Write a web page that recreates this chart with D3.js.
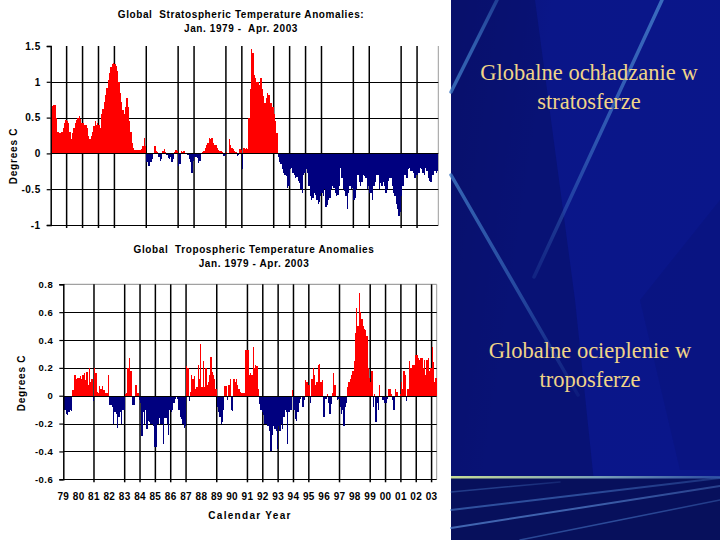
<!DOCTYPE html>
<html>
<head>
<meta charset="utf-8">
<script src="https://cdn.jsdelivr.net/npm/d3@7"></script>
<style>
  html, body { margin: 0; padding: 0; background: #ffffff; }
  svg { display: block; }
  .lbl { font-family: "Liberation Sans", Arial, sans-serif; font-weight: bold; font-size: 10px; fill: #000; white-space: pre; }
</style>
</head>
<body>
<svg id="chart" width="720" height="540"></svg>
<script>
// ---------------- DATA ----------------
// Global stratospheric temperature anomalies, monthly Jan 1979 - Apr 2003 (deg C)
const stratAnomalies = [
  0.62,0.66,0.67,0.68,0.50,0.30,0.28,0.28,0.30,0.36,0.42,0.46,   // 1979
  0.45,0.42,0.30,0.20,0.28,0.35,0.42,0.46,0.50,0.52,0.48,0.42,   // 1980
  0.42,0.40,0.40,0.35,0.25,0.20,0.25,0.30,0.38,0.45,0.40,0.42,   // 1981
  0.40,0.35,0.55,0.62,0.72,0.82,0.92,1.02,1.12,1.20,1.25,1.26,   // 1982
  1.25,1.22,1.15,1.00,0.85,0.72,0.60,0.55,0.65,0.78,0.65,0.45,   // 1983
  0.30,0.15,0.08,0.05,0.05,0.05,0.05,0.05,0.06,0.10,0.22,0.10,   // 1984
  -0.12,-0.17,-0.18,-0.12,-0.08,0.00,0.10,0.04,0.02,-0.05,-0.10,-0.08, // 1985
  0.03,0.06,0.02,-0.02,-0.06,-0.08,-0.05,-0.12,-0.08,0.02,0.05,0.04,   // 1986
  -0.18,-0.15,0.03,0.02,0.03,0.01,0.00,-0.02,-0.08,-0.12,-0.27,-0.10,  // 1987
  -0.05,-0.05,-0.06,-0.13,-0.10,0.00,0.02,0.04,0.08,0.12,0.15,0.21,    // 1988
  0.20,0.21,0.15,0.12,0.12,0.08,0.05,0.03,0.03,0.02,-0.03,-0.02,       // 1989
  0.02,0.00,0.20,0.12,0.08,0.06,0.03,0.02,-0.03,-0.02,0.06,0.05,       // 1990
  -0.22,0.07,0.06,0.07,0.06,0.50,0.90,1.46,1.40,1.10,1.05,1.00,        // 1991
  1.00,0.95,1.05,0.90,0.80,0.70,0.78,0.85,0.82,0.70,0.70,0.65,         // 1992
  0.55,0.45,0.28,-0.05,-0.12,-0.15,-0.22,-0.28,-0.30,-0.32,-0.48,-0.45, // 1993
  -0.22,-0.20,-0.28,-0.30,-0.35,-0.33,-0.38,-0.42,-0.50,-0.55,-0.30,-0.28, // 1994
  -0.22,-0.28,-0.45,-0.60,-0.65,-0.62,-0.55,-0.58,-0.65,-0.70,-0.68,-0.60, // 1995
  -0.55,-0.60,-0.50,-0.75,-0.72,-0.65,-0.62,-0.50,-0.45,-0.48,-0.55,-0.60, // 1996
  -0.58,-0.45,-0.20,-0.35,-0.50,-0.52,-0.60,-0.78,-0.55,-0.45,-0.50,-0.48, // 1997
  -0.65,-0.62,-0.50,-0.30,-0.40,-0.45,-0.40,-0.30,-0.32,-0.35,-0.50,-0.45, // 1998
  -0.55,-0.55,-0.65,-0.45,-0.40,-0.30,-0.30,-0.50,-0.42,-0.45,-0.40,-0.45, // 1999
  -0.55,-0.50,-0.38,-0.35,-0.35,-0.45,-0.55,-0.60,-0.70,-0.78,-0.87,-0.82, // 2000
  -0.60,-0.45,-0.30,-0.30,-0.35,-0.22,-0.20,-0.25,-0.25,-0.28,-0.35,-0.30, // 2001
  -0.30,-0.28,-0.20,-0.22,-0.28,-0.30,-0.20,-0.25,-0.35,-0.38,-0.40,-0.30, // 2002
  -0.30,-0.25,-0.28,-0.25                                                  // 2003
];

// Global tropospheric temperature anomalies, monthly Jan 1979 - Apr 2003 (deg C)
const tropoAnomalies = [
  -0.10,-0.10,-0.13,-0.14,-0.12,-0.10,-0.11,0.04,0.15,0.15,0.12,0.13,  // 1979
  0.13,0.14,0.12,0.15,0.16,0.11,0.17,0.08,0.20,0.10,0.12,-0.04,        // 1980
  0.20,0.16,0.03,0.02,0.07,0.05,0.07,0.04,0.04,0.02,0.02,0.15,         // 1981
  -0.07,-0.07,-0.08,-0.20,-0.12,-0.13,-0.23,-0.15,-0.12,-0.20,-0.10,-0.10, // 1982
  0.01,0.02,0.20,0.27,0.18,0.18,-0.07,-0.07,0.08,0.08,0.02,-0.03,      // 1983
  -0.05,-0.29,-0.12,-0.20,-0.10,-0.24,-0.18,-0.19,-0.20,-0.20,-0.22,-0.37, // 1984
  -0.37,-0.20,-0.20,-0.16,-0.20,-0.20,-0.35,-0.16,-0.16,-0.20,-0.28,-0.10, // 1985
  -0.12,-0.10,-0.05,-0.02,0.00,-0.02,-0.10,-0.15,-0.17,-0.20,-0.23,-0.22,  // 1986
  0.21,0.20,-0.04,0.03,0.15,0.12,0.14,0.05,0.06,0.22,0.12,0.37,        // 1987
  0.06,0.25,0.06,0.20,0.08,0.10,0.15,0.28,0.17,0.15,0.12,0.05,         // 1988
  -0.08,-0.12,-0.15,-0.20,-0.19,-0.10,0.07,0.07,-0.03,0.08,0.12,-0.10, // 1989
  -0.11,0.12,0.10,0.12,0.08,0.05,0.03,0.02,0.02,0.02,0.33,0.33,        // 1990
  0.33,0.15,0.16,0.15,0.35,0.20,0.22,0.21,0.05,-0.06,-0.10,-0.12,      // 1991
  -0.14,-0.20,-0.20,-0.22,-0.22,-0.25,-0.40,-0.28,-0.22,-0.24,-0.25,-0.38, // 1992
  -0.22,-0.25,-0.20,-0.24,-0.15,-0.10,-0.12,-0.35,-0.12,-0.10,-0.10,0.04,  // 1993
  -0.10,-0.17,-0.18,-0.12,-0.05,-0.02,-0.01,-0.08,-0.03,0.11,0.10,0.08,    // 1994
  0.08,-0.05,0.12,0.20,0.15,0.08,0.10,0.22,0.23,0.10,0.11,-0.15,       // 1995
  -0.15,-0.02,0.01,-0.05,-0.13,-0.06,0.02,0.16,0.08,0.00,-0.03,-0.02,  // 1996
  -0.08,-0.13,-0.10,-0.22,-0.08,-0.05,0.06,0.10,0.12,0.15,0.18,0.25,   // 1997
  0.45,0.63,0.50,0.74,0.60,0.55,0.50,0.48,0.47,0.43,0.20,0.13,         // 1998
  0.10,0.18,-0.08,0.01,-0.19,-0.05,-0.10,0.08,0.00,-0.03,-0.03,-0.05,  // 1999
  -0.05,-0.02,0.05,0.05,0.01,-0.03,-0.10,0.05,0.03,0.03,0.00,0.01,     // 2000
  0.10,0.05,0.18,0.15,-0.04,0.05,0.25,0.20,0.20,0.22,0.22,0.29,        // 2001
  0.29,0.27,0.26,0.27,0.27,0.20,0.26,0.15,0.26,0.27,0.18,0.20,         // 2002
  0.35,0.24,0.10,0.13                                                  // 2003
];

const startYear = 1979;
const topTicks = [1.5, 1, 0.5, 0, -0.5, -1];
const bottomTicks = [0.8, 0.6, 0.4, 0.2, 0, -0.2, -0.4, -0.6];
const topGridYears = [1980,1981,1982,1983,1985,1987,1988,1990,1991,1993,1994,1995,1996,1998,1999,2001,2002];
const bottomGridYears = [1981,1983,1984,1985,1986,1987,1989,1991,1992,1993,1994,1995,1997,1999,2000,2001,2002,2003];
const yearLabels = ["79","80","81","82","83","84","85","86","87","88","89","90","91","92","93","94","95","96","97","98","99","00","01","02","03"];
const topTitle = ["Global  Stratospheric Temperature Anomalies:", "Jan. 1979 -  Apr. 2003"];
const bottomTitle = ["Global  Tropospheric Temperature Anomalies", "Jan. 1979 - Apr. 2003"];
const yAxisTitle = "Degrees C";
const xAxisTitle = "Calendar Year";
const panelText1 = ["Globalne ochładzanie w", "stratosferze"];
const panelText2 = ["Globalne ocieplenie w", "troposferze"];

// ---------------- DRAW ----------------
const svg = d3.select("#chart");
const defs = svg.append("defs");
svg.append("rect").attr("x",0).attr("y",0).attr("width",720).attr("height",540).attr("fill","#ffffff");

const RED = "#ff0000", NAVY = "#00007f";
const fmt = d => String(d).replace("\u2212","-");

function drawChart(cfg) {
  const n = cfg.values.length;
  const x = d3.scaleLinear().domain([0, n]).range([cfg.x0, cfg.x1]);
  const y = d3.scaleLinear().domain(cfg.yDomain).range([cfg.yBottom, cfg.yTop]);
  const g = svg.append("g");

  if (cfg.frame) {
    g.append("line").attr("x1", cfg.x0).attr("x2", cfg.x1).attr("y1", y(cfg.yDomain[1])).attr("y2", y(cfg.yDomain[1]))
      .attr("stroke", "#8a8a8a").attr("stroke-width", 1);
  }
  g.append("line").attr("x1", cfg.x1).attr("x2", cfg.x1).attr("y1", y(cfg.yDomain[1])).attr("y2", y(cfg.yDomain[0]))
    .attr("stroke", "#9a9a9a").attr("stroke-width", 1);

  // horizontal grid
  g.selectAll(".hg").data(cfg.ticks.filter(t => t !== 0 && t !== cfg.yDomain[1]))
    .enter().append("line")
    .attr("x1", cfg.x0).attr("x2", cfg.x1)
    .attr("y1", d => Math.round(y(d)) + 0.5).attr("y2", d => Math.round(y(d)) + 0.5)
    .attr("stroke", "#000").attr("stroke-width", 1.2);

  // vertical year grid
  g.selectAll(".vg").data(cfg.gridYears).enter().append("line")
    .attr("x1", d => x((d - startYear) * 12)).attr("x2", d => x((d - startYear) * 12))
    .attr("y1", y(cfg.yDomain[1])).attr("y2", y(cfg.yDomain[0]) + 3)
    .attr("stroke", "#000").attr("stroke-width", 1.5);

  // bars
  g.selectAll(".bar").data(cfg.values).enter().append("rect")
    .attr("x", (d, i) => x(i))
    .attr("width", (d, i) => x(i + 1) - x(i))
    .attr("y", d => d >= 0 ? y(d) : y(0))
    .attr("height", d => Math.abs(y(d) - y(0)))
    .attr("fill", d => d >= 0 ? RED : NAVY)
    .attr("shape-rendering", "crispEdges");

  // zero line
  g.append("line").attr("x1", cfg.x0).attr("x2", cfg.x1)
    .attr("y1", Math.round(y(0)) + 0.5).attr("y2", Math.round(y(0)) + 0.5)
    .attr("stroke", "#000").attr("stroke-width", 1.2);

  // y axis
  const ax = d3.axisLeft(y).tickValues(cfg.ticks).tickSize(4).tickPadding(6).tickFormat(fmt);
  const axg = g.append("g").attr("transform", `translate(${cfg.x0},0)`).call(ax);
  axg.select(".domain").attr("stroke", "#000").attr("stroke-width", 1.5);
  axg.selectAll(".tick line").attr("stroke", "#000").attr("stroke-width", 1.2);
  axg.selectAll(".tick text").attr("class", "lbl").style("font-size", cfg.tickFont + "px").attr("fill", "#000").style("letter-spacing", "0.5px");

  // titles
  cfg.title.forEach((t, i) => {
    svg.append("text").attr("class", "lbl").attr("x", cfg.titleX).attr("y", cfg.titleY + i * 14)
      .attr("text-anchor", "middle").attr("xml:space", "preserve").style("letter-spacing", "0.6px").text(t);
  });
  svg.append("text").attr("class", "lbl")
    .attr("transform", `translate(${cfg.yLabelX},${cfg.yLabelY}) rotate(-90)`)
    .attr("text-anchor", "middle").attr("dominant-baseline", "middle")
    .style("letter-spacing", "0.8px").text(yAxisTitle);
  return x;
}

drawChart({
  values: stratAnomalies, x0: 50.7, x1: 438.3, yTop: 46, yBottom: 225, yDomain: [-1, 1.5],
  ticks: topTicks, gridYears: topGridYears, frame: false, tickFont: 10,
  title: topTitle, titleX: 241, titleY: 18, yLabelX: 14, yLabelY: 156
});

const xb = drawChart({
  values: tropoAnomalies, x0: 63.3, x1: 436.7, yTop: 284.3, yBottom: 479.3, yDomain: [-0.6, 0.8],
  ticks: bottomTicks, gridYears: bottomGridYears, frame: true, tickFont: 9.5,
  title: bottomTitle, titleX: 254, titleY: 253, yLabelX: 22.5, yLabelY: 383
});

// x labels
svg.selectAll(".xl").data(yearLabels).enter().append("text")
  .attr("class", "lbl").attr("x", (d, i) => xb(i * 12)).attr("y", 500)
  .attr("text-anchor", "middle").style("letter-spacing", "0.3px").text(d => d);
svg.append("text").attr("class", "lbl").attr("x", 250).attr("y", 519)
  .attr("text-anchor", "middle").style("letter-spacing", "1.3px").text(xAxisTitle);

// ---------------- RIGHT PANEL ----------------
const bgGrad = defs.append("linearGradient").attr("id", "bgG").attr("x1", "0").attr("y1", "0").attr("x2", "1").attr("y2", "0.3");
bgGrad.append("stop").attr("offset", "0").attr("stop-color", "#0a1274");
bgGrad.append("stop").attr("offset", "0.35").attr("stop-color", "#0a1688");
bgGrad.append("stop").attr("offset", "1").attr("stop-color", "#0a168a");

const P = svg.append("g");
P.append("rect").attr("x", 451).attr("y", 0).attr("width", 269).attr("height", 540).attr("fill", "url(#bgG)");
P.append("path").attr("d", "M451,0 L535,0 L575,300 L600,540 L451,540 Z").attr("fill", "#060e62").attr("opacity", 0.5);
P.append("path").attr("d", "M640,300 L720,200 L720,470 L680,470 Z").attr("fill", "#06106c").attr("opacity", 0.25);

function streak(id, x1, y1, x2, y2, w, c1, o1, o2) {
  const gr = defs.append("linearGradient").attr("id", id).attr("gradientUnits", "userSpaceOnUse")
    .attr("x1", x1).attr("y1", y1).attr("x2", x2).attr("y2", y2);
  gr.append("stop").attr("offset", "0").attr("stop-color", c1).attr("stop-opacity", o1);
  gr.append("stop").attr("offset", "0.5").attr("stop-color", c1).attr("stop-opacity", (o1 + o2) / 2 + 0.1);
  gr.append("stop").attr("offset", "1").attr("stop-color", c1).attr("stop-opacity", o2);
  P.append("line").attr("x1", x1).attr("y1", y1).attr("x2", x2).attr("y2", y2)
    .attr("stroke", `url(#${id})`).attr("stroke-width", w).attr("stroke-linecap", "round");
}
streak("s1", 497, 0, 451, 92, 3.5, "#3f78c4", 0.45, 0.8);
streak("s2", 662, 0, 534, 277, 3.5, "#4a88d0", 0.75, 0.15);
streak("s3", 451, 175, 578, 395, 3.5, "#3f78c4", 0.8, 0.1);

// bottom band
P.append("rect").attr("x", 451).attr("y", 478).attr("width", 269).attr("height", 62).attr("fill", "#07105c");
const hl = defs.append("linearGradient").attr("id", "hl").attr("x1", "0").attr("x2", "1");
hl.append("stop").attr("offset", "0").attr("stop-color", "#c8dc96");
hl.append("stop").attr("offset", "0.55").attr("stop-color", "#7aa0b8");
hl.append("stop").attr("offset", "1").attr("stop-color", "#2a4aa0");
P.append("rect").attr("x", 451).attr("y", 476).attr("width", 269).attr("height", 2.5).attr("fill", "url(#hl)");
streak("b1", 451, 510, 720, 478, 2, "#4a7ccc", 0.6, 0.3);
streak("b2", 451, 528, 720, 486, 2, "#5a8ad6", 0.7, 0.4);
streak("b3", 520, 540, 720, 500, 1.5, "#4a7ccc", 0.5, 0.4);
streak("b4", 451, 492, 560, 482, 1.5, "#4a7ccc", 0.4, 0.2);

// panel text
function panelText(lines, cx, y0) {
  lines.forEach((t, i) => {
    P.append("text").attr("x", cx).attr("y", y0 + i * 29).attr("text-anchor", "middle")
      .attr("font-family", "'Liberation Serif', 'Times New Roman', serif").attr("font-size", 22.5)
      .attr("fill", "#f0d488").text(t);
  });
}
panelText(panelText1, 589, 80);
panelText(panelText2, 590, 358);
</script>
</body>
</html>
